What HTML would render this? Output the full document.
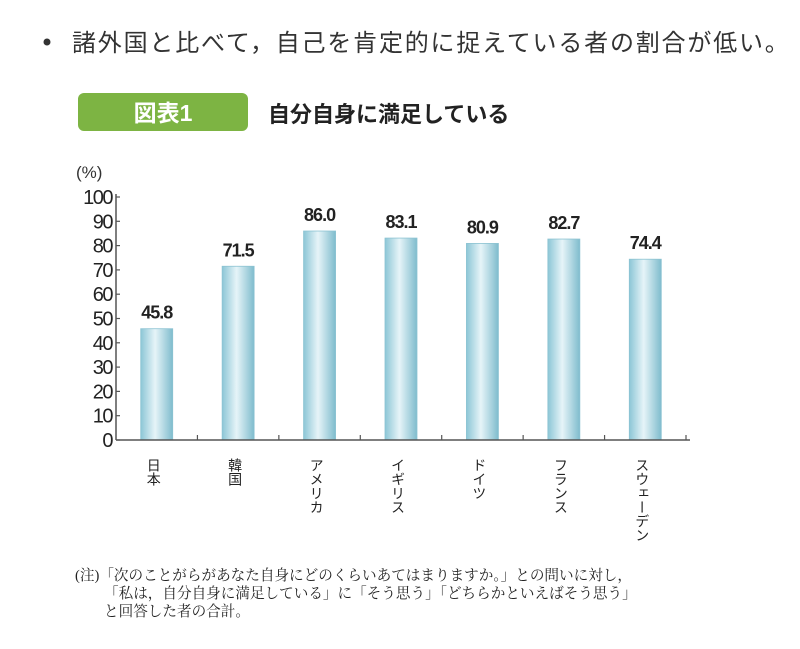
<!DOCTYPE html>
<html><head><meta charset="utf-8">
<style>
body{margin:0;background:#fff;width:800px;height:644px;overflow:hidden;font-family:"Liberation Sans","Noto Sans CJK JP",sans-serif;}
</style></head>
<body>
<svg width="800" height="644" viewBox="0 0 800 644" xmlns="http://www.w3.org/2000/svg">
<defs>
<linearGradient id="bg" x1="0" x2="1" y1="0" y2="0">
<stop offset="0" stop-color="#8cc6d6"/><stop offset="0.45" stop-color="#e6f4f8"/><stop offset="1" stop-color="#7fbccd"/>
</linearGradient>
</defs>
<circle cx="47" cy="42" r="3.5" fill="#333"/>
<text x="72" y="51" font-size="24" fill="#333" letter-spacing="1.8" font-family="Liberation Sans, Noto Sans CJK JP, sans-serif">諸外国と比べて，自己を肯定的に捉えている者の割合が低い。</text>
<rect x="78" y="93" width="170" height="38" rx="6" fill="#7db443"/>
<text x="163" y="121" font-size="23" font-weight="bold" fill="#fff" text-anchor="middle" font-family="Liberation Sans, Noto Sans CJK JP, sans-serif">図表1</text>
<text x="268" y="122" font-size="22" font-weight="bold" fill="#222" font-family="Liberation Sans, Noto Sans CJK JP, sans-serif">自分自身に満足している</text>
<text x="76" y="178" font-size="17" fill="#333">(%)</text>
<g id="plot"></g>
<g font-family="Liberation Serif, Noto Serif CJK SC, serif" font-size="14.6" fill="#222">
<text x="75" y="580">(注)「次のことがらがあなた自身にどのくらいあてはまりますか。」との問いに対し，</text>
<text x="104" y="598">「私は，自分自身に満足している」に「そう思う」「どちらかといえばそう思う」</text>
<text x="104" y="616">と回答した者の合計。</text>
</g>
</svg>
<script>
const categories=["日本","韓国","アメリカ","イギリス","ドイツ","フランス","スウェーデン"];
const values=[45.8,71.5,86.0,83.1,80.9,82.7,74.4];
const yTicks=[0,10,20,30,40,50,60,70,80,90,100];
const NS="http://www.w3.org/2000/svg";
const g=document.getElementById('plot');
const x0=116,x1=690,y0=440,y100=197;
const y=v=>y0-(v/100)*(y0-y100);
const step=(x1-x0-4)/categories.length;
const cx=i=>x0+step*(i+0.5);
function mk(t,a){const e=document.createElementNS(NS,t);for(const k in a)e.setAttribute(k,a[k]);g.appendChild(e);return e;}
let e=mk('line',{x1:x0,y1:y100-3,x2:x0,y2:y0,stroke:'#555','stroke-width':1.5});


yTicks.forEach(t=>{
 let l=mk('line',{x1:x0,x2:x0+4,y1:y(t),y2:y(t),stroke:'#555','stroke-width':1.2});
 
 
 let tx=mk('text',{x:x0-4,y:y(t)+7,'font-size':20,'text-anchor':'end',fill:'#222','letter-spacing':'-1.5'});
 tx.textContent=t;
 
 
});
categories.forEach((c,i)=>{
 const bw=32,v=values[i];
 let r=mk('rect',{x:cx(i)-bw/2,y:y(v),width:bw,height:y0-y(v),fill:'url(#bg)',stroke:'#8cc3d2','stroke-width':0.8});
 
 
 let vl=mk('text',{x:cx(i),y:y(v)-10,'font-size':18,'font-weight':'bold','text-anchor':'middle',fill:'#222','letter-spacing':'-1'});
 vl.textContent=v.toFixed(1);
 
 
 let tk=mk('line',{x1:x0+step*(i+1),x2:x0+step*(i+1),y1:y0,y2:y0-5,stroke:'#555','stroke-width':1.2});
 
 
 let cl=mk('text',{x:cx(i)-3,y:458,'font-size':14,fill:'#222','font-family':'Liberation Sans, Noto Sans CJK JP, sans-serif'});
 cl.setAttribute('style','writing-mode:vertical-rl;glyph-orientation-vertical:0');
 cl.textContent=c;
 
 
});
e=mk('line',{x1:x0,y1:y0,x2:x1,y2:y0,stroke:'#555','stroke-width':1.5});


</script>
</body></html>
